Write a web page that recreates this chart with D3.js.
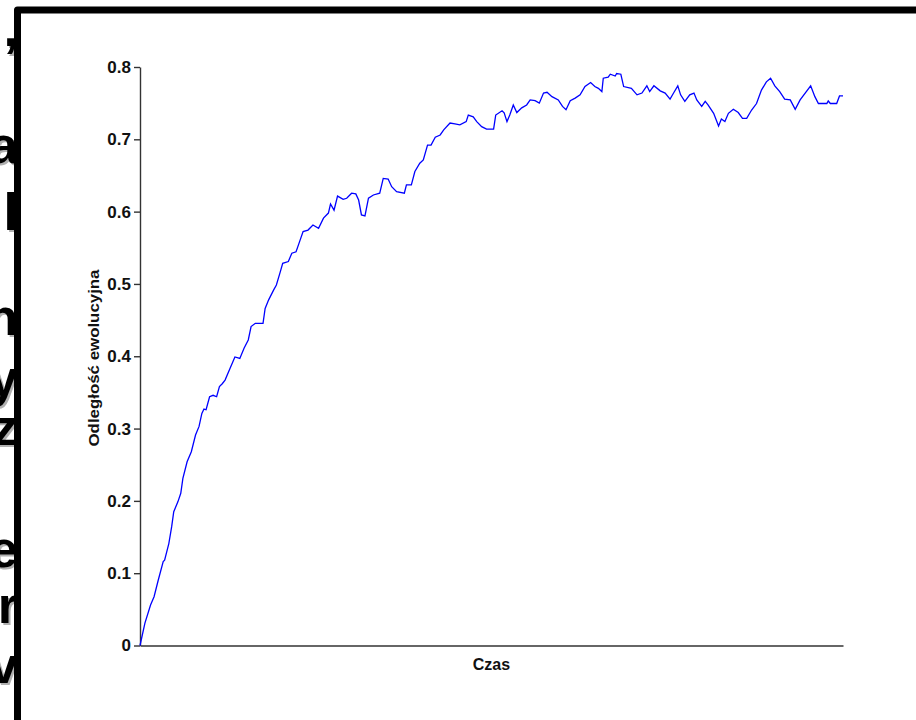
<!DOCTYPE html>
<html>
<head>
<meta charset="utf-8">
<script src="https://cdn.jsdelivr.net/npm/d3@7/dist/d3.min.js"></script>
<style>
  html, body { margin: 0; padding: 0; background: #fff; }
  svg { display: block; }
</style>
</head>
<body>
<svg id="chart" width="916" height="720"></svg>
<script>
// ---- data ----
const yTicks = [0, 0.1, 0.2, 0.3, 0.4, 0.5, 0.6, 0.7, 0.8];
const yTickLabels = ["0", "0.1", "0.2", "0.3", "0.4", "0.5", "0.6", "0.7", "0.8"];
const xLabel = "Czas";
const yLabel = "Odległość ewolucyjna";
const timeSteps = [0,7,15,20,26,33,35,41,45,48,54,58,61,67,73,79,84,88,91,94,99,104,109,113,117,121,128,135,142,148,154,158,164,175,178,183,190,194,199,203,211,216,222,227,232,239,246,254,261,268,271,276,281,289,294,301,307,311,315,320,325,332,341,346,353,358,365,376,379,386,391,398,403,409,414,420,427,432,441,448,455,464,467,474,479,486,493,503,506,515,518,522,526,531,536,543,550,555,562,568,574,579,586,595,601,606,612,619,626,633,641,647,652,657,659,666,669,676,678,684,688,699,707,714,721,725,731,740,747,754,759,765,769,775,782,788,792,799,804,808,816,823,827,832,837,844,851,857,863,870,877,884,891,897,903,910,917,925,932,939,947,954,960,965,977,979,982,991,995,1000];
const distance = [0,0.031,0.056,0.0675,0.0906,0.116,0.118,0.141,0.164,0.185,0.199,0.2105,0.231,0.254,0.268,0.291,0.303,0.321,0.327,0.326,0.344,0.346,0.344,0.358,0.362,0.367,0.383,0.399,0.397,0.411,0.4225,0.441,0.4455,0.4455,0.466,0.478,0.4915,0.4985,0.515,0.5285,0.531,0.5425,0.5445,0.5585,0.5725,0.5745,0.5815,0.577,0.591,0.598,0.6105,0.602,0.6215,0.617,0.6185,0.6255,0.6245,0.616,0.5955,0.594,0.6185,0.623,0.6255,0.646,0.645,0.6345,0.6275,0.6255,0.637,0.637,0.6555,0.667,0.6715,0.692,0.692,0.703,0.706,0.713,0.7225,0.7215,0.72,0.7245,0.7335,0.731,0.7245,0.7175,0.714,0.714,0.7335,0.7395,0.7365,0.7245,0.7335,0.7475,0.737,0.7435,0.7475,0.7545,0.7535,0.75,0.764,0.765,0.759,0.7545,0.7455,0.741,0.7535,0.757,0.7615,0.773,0.7785,0.773,0.7705,0.766,0.7845,0.786,0.79,0.7875,0.791,0.79,0.773,0.7705,0.7615,0.764,0.774,0.766,0.774,0.767,0.764,0.7555,0.764,0.774,0.7615,0.7525,0.7615,0.764,0.7545,0.7455,0.7525,0.7475,0.736,0.7185,0.728,0.7245,0.736,0.7415,0.737,0.729,0.729,0.7405,0.7495,0.768,0.7795,0.7845,0.774,0.766,0.7555,0.7545,0.7415,0.7545,0.765,0.774,0.759,0.7495,0.7495,0.753,0.7495,0.7495,0.76,0.76];
// fragments of slide text visible left of the frame
const sideChars = [",", "a", "l", "n", "y", "z", "e", "r", "v"];
const sideBaselines = [46, 163, 230, 335, 396, 445, 567, 623, 683];

// ---- layout ----
const svg = d3.select("#chart");
const plot = { left: 140, right: 843, top: 67, bottom: 645.5 };

const x = d3.scaleLinear().domain([0, 1000]).range([plot.left, plot.right]);
const y = d3.scaleLinear().domain([0, 0.8]).range([plot.bottom, plot.top]);

// side text fragments (drawn under the frame)
const side = svg.append("g");
sideChars.forEach((c, i) => {
  const g = side.append("g");
  g.append("text").attr("x", 20).attr("y", sideBaselines[i] + 2)
    .attr("text-anchor", "end").attr("font-family", "Liberation Sans, Arial, sans-serif")
    .attr("font-weight", "bold").attr("font-size", 52).attr("fill", "#b0b0b0").text(c);
  g.append("text").attr("x", 18).attr("y", sideBaselines[i])
    .attr("text-anchor", "end").attr("font-family", "Liberation Sans, Arial, sans-serif")
    .attr("font-weight", "bold").attr("font-size", 52).attr("fill", "#000").text(c);
});
// white panel inside frame
svg.append("rect").attr("x", 17.5).attr("y", 10).attr("width", 900).attr("height", 720).attr("fill", "#fff");
// frame
svg.append("path")
  .attr("d", "M17.5,725 L17.5,10 L925,10")
  .attr("fill", "none").attr("stroke", "#000").attr("stroke-width", 7).attr("stroke-linejoin", "round");

// y axis
const yAxis = d3.axisLeft(y).tickValues(yTicks)
  .tickFormat((d, i) => yTickLabels[i]).tickSize(6).tickSizeOuter(0).tickPadding(3);
const gy = svg.append("g").attr("transform", `translate(${plot.left},0)`).call(yAxis);
gy.select(".domain").attr("stroke", "#333").attr("stroke-width", 1.4);
gy.selectAll(".tick line").attr("stroke", "#333").attr("stroke-width", 1.4);
gy.selectAll(".tick text").attr("font-family", "Liberation Sans, Arial, sans-serif")
  .attr("font-weight", "bold").attr("font-size", 17).attr("fill", "#111");

// x axis (no ticks)
const xAxis = d3.axisBottom(x).tickValues([]).tickSizeOuter(0);
const gx = svg.append("g").attr("transform", `translate(0,${plot.bottom})`).call(xAxis);
gx.select(".domain").attr("stroke", "#333").attr("stroke-width", 1.4);

// line
const line = d3.line().x((d, i) => x(timeSteps[i])).y(d => y(d));
svg.append("path").datum(distance)
  .attr("d", line).attr("fill", "none").attr("stroke", "#0000ff").attr("stroke-width", 1.3);

// axis labels
svg.append("text").attr("x", (plot.left + plot.right) / 2).attr("y", 670)
  .attr("text-anchor", "middle").attr("font-family", "Liberation Sans, Arial, sans-serif")
  .attr("font-weight", "bold").attr("font-size", 16).attr("fill", "#111").text(xLabel);
svg.append("text").attr("transform", `translate(99,358) rotate(-90)`)
  .attr("text-anchor", "middle").attr("font-family", "Liberation Sans, Arial, sans-serif")
  .attr("font-weight", "bold").attr("font-size", 15).attr("fill", "#111")
  .attr("textLength", 177).attr("lengthAdjust", "spacingAndGlyphs").text(yLabel);
</script>
</body>
</html>
